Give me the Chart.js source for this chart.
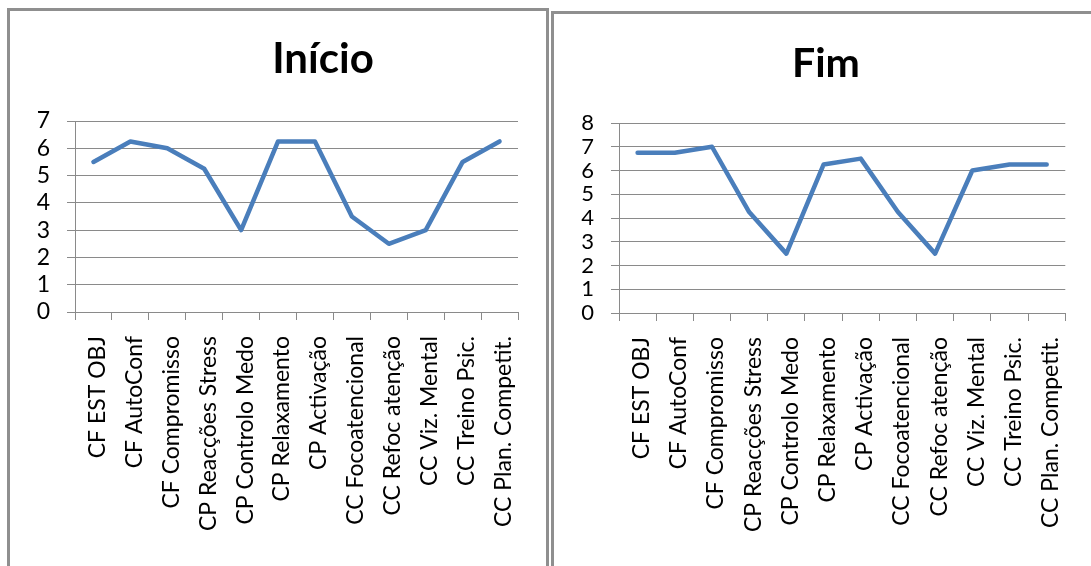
<!DOCTYPE html>
<html>
<head>
<meta charset="utf-8">
<script src="https://cdn.jsdelivr.net/npm/chart.js@4/dist/chart.umd.min.js"></script>
<style>
  html, body { margin: 0; padding: 0; background: #ffffff; }
  body { width: 1091px; height: 566px; position: relative; overflow: hidden; }
  .panel { position: absolute; border: 3px solid #8f8f8f; box-sizing: border-box; background: #ffffff; }
  #panelA { left: 7px; top: 8px; width: 542px; height: 600px; }
  #panelB { left: 551px; top: 11px; width: 600px; height: 600px; }
  canvas { position: absolute; }
  #chartA { left: 10px; top: 11px; }
  #chartB { left: 554px; top: 14px; }
</style>
</head>
<body>
<div class="panel" id="panelA"></div>
<div class="panel" id="panelB"></div>
<canvas id="chartA" width="536" height="555"></canvas>
<canvas id="chartB" width="537" height="552"></canvas>
<script>
// Mental-skills profile categories (shared by both panels)
const categories = [
  'CF EST OBJ', 'CF AutoConf', 'CF Compromisso', 'CP Reacções Stress',
  'CP Controlo Medo', 'CP Relaxamento', 'CP Activação', 'CC Focoatencional',
  'CC Refoc atenção', 'CC Viz. Mental', 'CC Treino Psic.', 'CC Plan. Competit.'
];

// Scores at the start of the programme
const inicioValues = [5.5, 6.25, 6, 5.25, 3, 6.25, 6.25, 3.5, 2.5, 3, 5.5, 6.25];
// Scores at the end of the programme
const fimValues = [6.75, 6.75, 7, 4.25, 2.5, 6.25, 6.5, 4.25, 2.5, 6, 6.25, 6.25];

// Value-axis tick labels
const inicioTicks = [0, 1, 2, 3, 4, 5, 6, 7];
const fimTicks = [0, 1, 2, 3, 4, 5, 6, 7, 8];

const panelTitles = ['Início', 'Fim'];

const LINE_COLOR = '#4a7ebb';
const GRID_COLOR = '#8a8a8a';
const FONT = 'Lato';

// Draws the bold heading of each panel
const panelTitle = {
  id: 'panelTitle',
  afterDraw(chart, args, opts) {
    const ctx = chart.ctx;
    ctx.save();
    ctx.font = 'bold ' + opts.size + 'px ' + FONT;
    ctx.fillStyle = '#000000';
    ctx.textAlign = 'center';
    ctx.textBaseline = 'alphabetic';
    ctx.fillText(opts.text, opts.x, opts.y);
    ctx.restore();
  }
};

function makeChart(canvasId, values, ticks, title, geom) {
  return new Chart(document.getElementById(canvasId), {
    type: 'line',
    data: {
      labels: categories,
      datasets: [{
        data: values,
        borderColor: LINE_COLOR,
        borderWidth: 4.5,
        borderCapStyle: 'round',
        borderJoinStyle: 'round',
        pointRadius: 0,
        pointHoverRadius: 0,
        tension: 0,
        fill: false
      }]
    },
    options: {
      responsive: false,
      animation: false,
      devicePixelRatio: 1,
      layout: { padding: { top: geom.top, right: geom.right, left: 0, bottom: 0 } },
      plugins: {
        legend: { display: false },
        title: { display: false },
        tooltip: { enabled: false },
        panelTitle: { text: title, x: geom.titleX, y: geom.titleY, size: geom.titleSize }
      },
      scales: {
        x: {
          type: 'category',
          offset: true,
          grid: {
            offset: true,
            drawOnChartArea: false,
            drawTicks: true,
            tickLength: 8,
            color: GRID_COLOR,
            lineWidth: 1
          },
          border: { color: GRID_COLOR, width: 1 },
          ticks: {
            autoSkip: false,
            maxRotation: 90,
            minRotation: 90,
            padding: 16,
            labelOffset: 4,
            color: '#000000',
            font: { family: FONT, size: 23 }
          },
          afterFit(scale) { scale.height = geom.xHeight; }
        },
        y: {
          min: ticks[0],
          max: ticks[ticks.length - 1],
          afterBuildTicks(scale) { scale.ticks = ticks.map(v => ({ value: v })); },
          grid: {
            drawTicks: true,
            tickLength: 8,
            color: GRID_COLOR,
            lineWidth: 1
          },
          border: { color: GRID_COLOR, width: 1 },
          ticks: {
            autoSkip: false,
            padding: 17,
            color: '#000000',
            font: { family: FONT, size: geom.ySize, lineHeight: 1 }
          },
          afterFit(scale) { scale.width = 65; }
        }
      }
    },
    plugins: [panelTitle]
  });
}

function drawAll() {
  makeChart('chartA', inicioValues, inicioTicks, panelTitles[0], {
    top: 110, right: 28, xHeight: 254, titleX: 313, titleY: 62, titleSize: 42, ySize: 23
  });
  makeChart('chartB', fimValues, fimTicks, panelTitles[1], {
    top: 109, right: 17, xHeight: 253, titleX: 272, titleY: 63, titleSize: 41, ySize: 22
  });
}

Promise.all([
  document.fonts.load('bold 42px Lato'),
  document.fonts.load('23px Lato')
]).then(drawAll, drawAll);
</script>
</body>
</html>
